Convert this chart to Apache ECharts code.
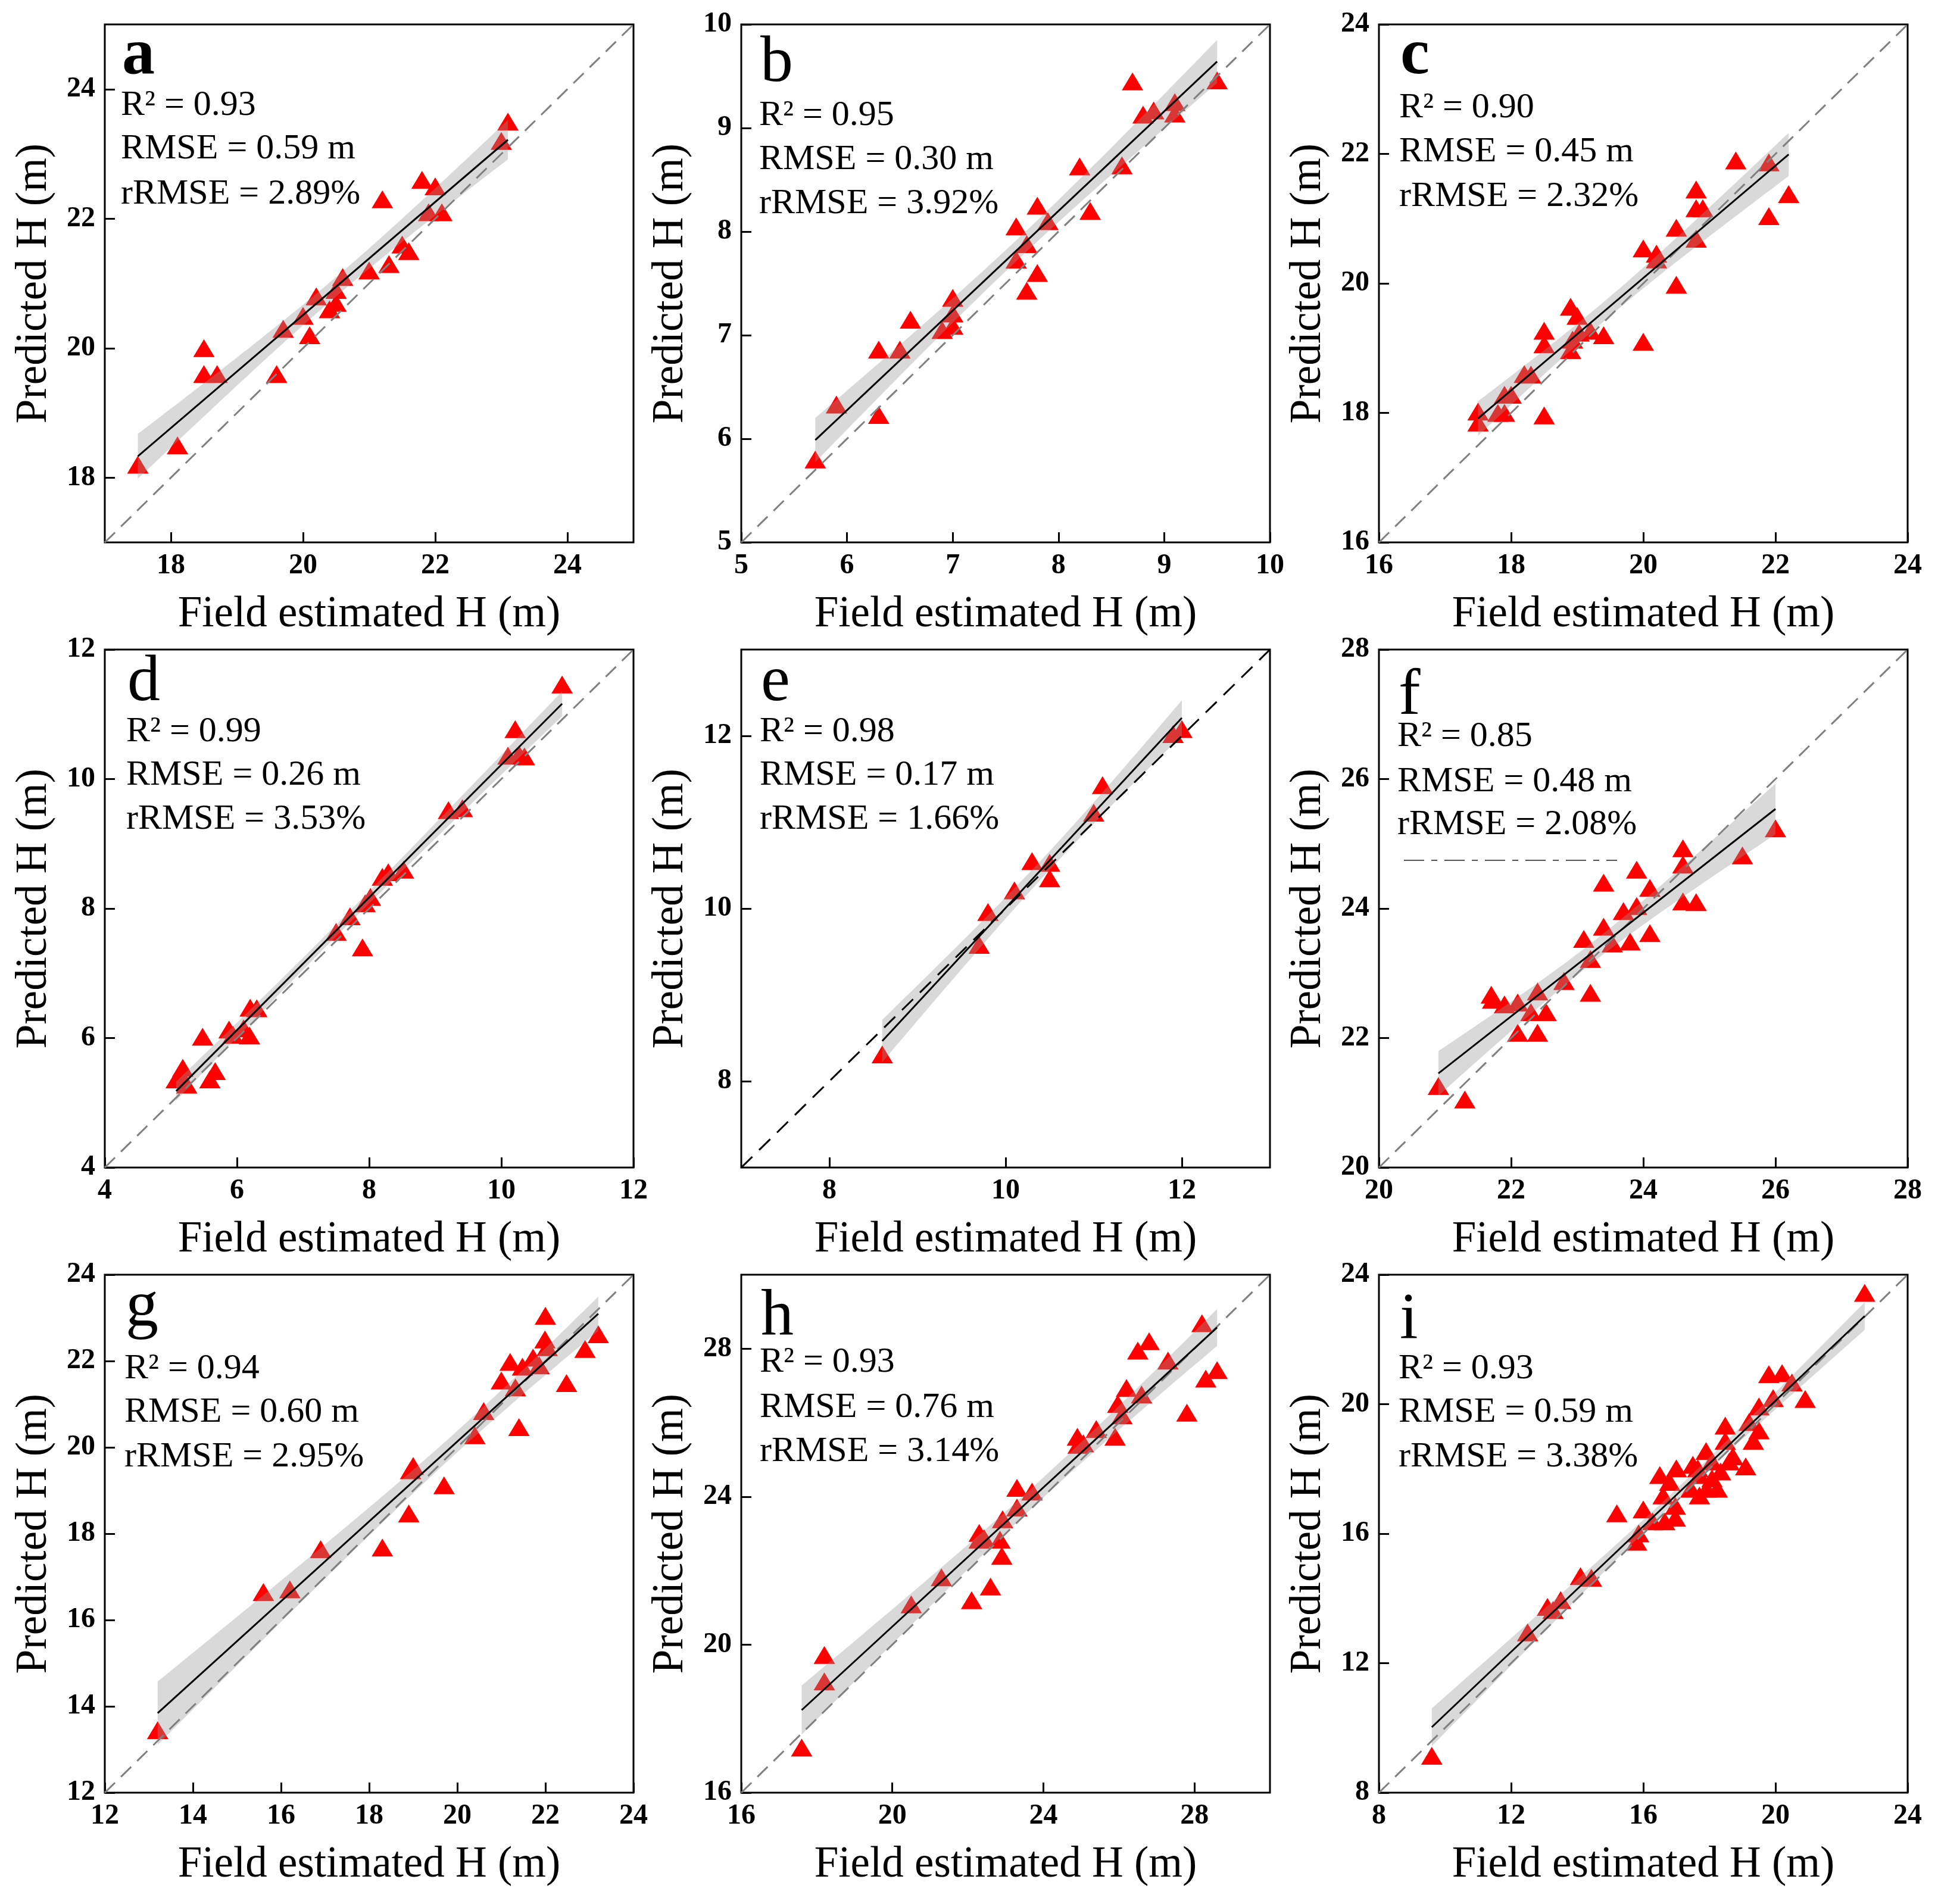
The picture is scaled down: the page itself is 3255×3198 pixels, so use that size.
<!DOCTYPE html>
<html>
<head>
<meta charset="utf-8">
<script src="https://cdn.jsdelivr.net/npm/echarts@6/dist/echarts.min.js"></script>
<style>
  html, body { margin: 0; padding: 0; background: #fff; }
  #chart { width: 3255px; height: 3198px; }
</style>
</head>
<body>
<div id="chart"></div>
<script>
// ---- data (field estimated vs predicted height) ----
const aX = [17.5,18.1,18.5,18.5,18.7,19.6,19.7,20.0,20.1,20.2,20.4,20.5,20.5,20.6,21.0,21.2,21.3,21.5,21.6,21.8,22.0,21.9,22.1,23.0,23.1];
const aY = [18.2,18.5,20.0,19.6,19.6,19.6,20.3,20.5,20.2,20.8,20.6,20.7,20.9,21.1,21.2,22.3,21.3,21.6,21.5,22.6,22.5,22.1,22.1,23.2,23.5];

const bX = [5.7,5.9,6.3,6.3,6.5,6.6,6.9,7.0,7.0,7.0,7.6,7.6,7.7,7.7,7.8,7.8,7.9,8.2,8.3,8.6,8.7,8.8,8.9,9.1,9.1,9.5];
const bY = [5.8,6.33,6.23,6.86,6.86,7.15,7.05,7.36,7.21,7.09,7.73,8.05,7.88,7.43,8.25,7.6,8.1,8.63,8.2,8.64,9.45,9.13,9.17,9.25,9.14,9.46];

const cX = [17.5,17.5,17.8,17.9,17.9,18.0,18.2,18.3,18.5,18.5,18.5,18.9,19.0,18.9,18.93,19.03,19.2,19.4,20.0,20.0,20.2,20.2,20.5,20.5,20.8,20.8,20.9,20.8,21.4,21.9,21.9,22.2];
const cY = [18.02,17.85,18.0,18.0,18.28,18.28,18.6,18.59,19.27,19.06,17.96,19.64,19.5,18.97,19.13,19.24,19.27,19.2,19.1,20.54,20.46,20.37,20.86,19.98,21.45,21.16,21.16,20.69,21.9,21.87,21.04,21.38];

const dX = [5.08,5.18,5.24,5.15,5.48,5.59,5.67,5.88,5.94,6.1,6.19,6.2,6.3,7.5,7.71,7.9,7.94,8.02,8.2,8.29,8.52,9.2,9.41,10.1,10.21,10.27,10.35,10.92];
const dY = [5.36,5.54,5.28,5.41,6.02,5.36,5.49,6.13,6.05,6.15,6.04,6.47,6.46,7.64,7.88,7.4,8.08,8.18,8.49,8.56,8.6,9.52,9.55,10.36,10.77,10.38,10.35,11.46];

const eX = [8.6,9.7,9.8,10.1,10.3,10.5,10.5,11.0,11.1,11.9,12.0];
const eY = [8.31,9.58,9.96,10.21,10.55,10.53,10.35,11.11,11.43,12.02,12.08];

const fX = [20.9,21.3,21.7,21.72,21.9,22.1,22.1,22.3,22.4,22.4,22.53,22.8,23.2,23.2,23.1,23.4,23.4,23.53,23.7,23.8,23.9,23.9,24.1,24.1,24.6,24.6,24.6,24.8,25.5,26.0];
const fY = [21.26,21.05,22.67,22.59,22.52,22.55,22.08,22.4,22.72,22.08,22.4,22.88,22.7,23.22,23.53,23.72,24.4,23.46,23.96,23.49,24.04,24.6,24.32,23.62,24.93,24.68,24.11,24.1,24.82,25.24];

const gX = [13.2,15.6,16.2,16.9,18.3,18.9,18.94,19.0,19.7,20.4,20.6,21.0,21.2,21.32,21.4,21.48,21.86,21.72,22.0,21.99,22.04,22.48,22.9,23.2];
const gY = [13.45,16.65,16.71,17.64,17.68,18.47,19.47,19.57,19.12,20.28,20.84,21.55,21.98,21.39,20.47,21.87,21.9,22.08,23.05,22.5,22.32,21.49,22.28,22.62];

const hX = [17.6,18.2,18.2,20.5,21.3,22.1,22.6,22.3,22.43,22.3,22.85,22.9,22.92,23.3,23.3,23.7,24.9,25.06,25.4,25.9,25.97,26.08,26.2,26.6,26.5,26.8,27.3,27.8,28.2,28.3,28.6,24.92];
const hY = [17.22,19.01,19.72,21.09,21.82,21.2,21.57,23.02,22.88,22.84,22.84,22.4,23.39,23.71,24.24,24.14,25.62,25.44,25.83,25.62,26.51,26.2,26.94,26.76,27.95,28.2,27.68,26.27,28.69,27.19,27.42,25.4];

const iX = [9.6,12.5,13.1,13.27,13.5,14.1,14.43,15.2,15.8,15.86,16.0,16.28,16.5,16.6,16.65,16.8,16.97,16.97,17.0,17.5,17.44,17.7,17.7,17.9,18.08,18.24,18.34,18.48,18.48,18.6,18.71,19.1,19.2,19.33,19.5,19.5,19.8,19.93,20.2,20.5,20.9,22.7,17.92,18.08,17.65];
const iY = [9.14,12.95,13.74,13.64,13.95,14.69,14.64,16.63,15.75,16.01,16.75,16.38,17.81,17.18,16.38,17.6,16.86,16.49,18.02,18.13,17.39,17.81,17.18,18.55,18.23,17.39,17.92,19.34,18.87,18.23,18.39,18.08,19.45,18.87,19.19,19.93,20.93,20.19,20.96,20.67,20.16,23.44,17.39,17.71,18.02];

// axis ranges and tick labels (same on both axes of a panel)
const axisRanges = [[17,25],[5,10],[16,24],[4,12],[7,13],[20,28],[12,24],[16,30],[8,24]];
const axisTicks = [
  [18,20,22,24], [5,6,7,8,9,10], [16,18,20,22,24],
  [4,6,8,10,12], [8,10,12], [20,22,24,26,28],
  [12,14,16,18,20,22,24], [16,20,24,28], [8,12,16,20,24]
];

const panelLetters = ['a','b','c','d','e','f','g','h','i'];
const r2Values   = ['0.93','0.95','0.90','0.99','0.98','0.85','0.94','0.93','0.93'];
const rmseValues = ['0.59','0.30','0.45','0.26','0.17','0.48','0.60','0.76','0.59'];
const rrmseValues = ['2.89','3.92','2.32','3.53','1.66','2.08','2.95','3.14','3.38'];

const xsAll = [aX,bX,cX,dX,eX,fX,gX,hX,iX];
const ysAll = [aY,bY,cY,dY,eY,fY,gY,hY,iY];

// ---- layout ----
const LEFTS = [176, 1245, 2316];
const TOPS = [41, 1091, 2141];
const W = 888, H = 870;
const FONT = '"Liberation Serif", "Times New Roman", serif';

// text baselines relative to the top of each plot: letter, R2, RMSE, rRMSE
const textRows = [
  [87,154,227,303],[99,171,245,319],[87,158,232,307],
  [89,156,229,303],[89,156,229,303],[112,164,240,312],
  [90,176,249,324],[105,165,241,315],[110,176,249,324]
];
const textLeft = [27,30,34,36,31,31,33,31,33];

// Student t quantile (0.975) via Cornish-Fisher expansion
function tQuantile(df) {
  const z = 1.959964;
  const z3 = z*z*z, z5 = z3*z*z, z7 = z5*z*z;
  return z + (z3 + z) / (4*df) + (5*z5 + 16*z3 + 3*z) / (96*df*df)
    + (3*z7 + 19*z5 + 17*z3 - 15*z) / (384*df*df*df);
}

// ordinary least squares with 95% confidence band of the mean
function fitLine(xs, ys) {
  const n = xs.length;
  const mx = xs.reduce((s, v) => s + v, 0) / n;
  const my = ys.reduce((s, v) => s + v, 0) / n;
  let sxx = 0, sxy = 0;
  for (let k = 0; k < n; k++) {
    sxx += (xs[k] - mx) ** 2;
    sxy += (xs[k] - mx) * (ys[k] - my);
  }
  const b = sxy / sxx, a = my - b * mx;
  let sse = 0;
  for (let k = 0; k < n; k++) sse += (ys[k] - a - b * xs[k]) ** 2;
  const s = Math.sqrt(sse / (n - 2));
  const t = tQuantile(n - 2);
  const xmin = Math.min(...xs), xmax = Math.max(...xs);
  const upper = [], lower = [];
  const steps = 60;
  for (let k = 0; k <= steps; k++) {
    const x = xmin + (xmax - xmin) * k / steps;
    const yh = a + b * x;
    const half = t * s * Math.sqrt(1 / n + (x - mx) ** 2 / sxx);
    upper.push([x, yh + half]);
    lower.push([x, yh - half]);
  }
  return { line: [[xmin, a + b * xmin], [xmax, a + b * xmax]], upper, lower };
}

const grids = [], xAxes = [], yAxes = [], series = [], graphics = [];

for (let p = 0; p < 9; p++) {
  const col = p % 3, row = Math.floor(p / 3);
  const left = LEFTS[col], top = TOPS[row];
  const [lo, hi] = axisRanges[p];
  const ticks = axisTicks[p];

  grids.push({
    left: left, top: top, width: W, height: H,
    show: true, borderColor: '#000', borderWidth: 3, backgroundColor: '#fff'
  });

  const common = {
    type: 'value', gridIndex: p, min: lo, max: hi,
    splitLine: { show: false },
    axisLine: { show: false },
    axisTick: { show: true, inside: true, length: 17, customValues: ticks,
      lineStyle: { color: '#000', width: 3 } },
    axisLabel: { customValues: ticks, fontFamily: FONT, fontSize: 48,
      fontWeight: 'bold', color: '#000', margin: 16 },
    nameLocation: 'middle',
    nameTextStyle: { fontFamily: FONT, fontSize: 73, color: '#000' }
  };
  xAxes.push(Object.assign({}, common, { name: 'Field estimated H (m)', nameGap: 85 }));
  yAxes.push(Object.assign({}, common, { name: 'Predicted H (m)', nameGap: 82, nameRotate: 90 }));

  const xs = xsAll[p], ys = ysAll[p];
  const fit = fitLine(xs, ys);

  series.push({
    type: 'scatter', xAxisIndex: p, yAxisIndex: p, z: 2,
    symbol: 'triangle', symbolSize: [36, 30],
    itemStyle: { color: '#ff0000', opacity: 1 },
    data: xs.map((x, k) => [x, ys[k]])
  });

  series.push({
    type: 'custom', xAxisIndex: p, yAxisIndex: p, z: 3, silent: true,
    data: [fit.line[0]],
    renderItem: function (params, api) {
      const pts = fit.upper.map(v => api.coord(v))
        .concat(fit.lower.slice().reverse().map(v => api.coord(v)));
      return { type: 'polygon', shape: { points: pts },
        style: { fill: 'rgba(150,150,150,0.36)' } };
    }
  });

  series.push({
    type: 'line', xAxisIndex: p, yAxisIndex: p, z: 4, silent: true,
    symbol: 'none',
    lineStyle: { color: p === 4 ? '#000' : '#808080', width: 3,
      type: p === 4 ? [26, 16] : [24, 14] },
    data: [[lo, lo], [hi, hi]]
  });

  series.push({
    type: 'line', xAxisIndex: p, yAxisIndex: p, z: 5, silent: true,
    symbol: 'none',
    lineStyle: { color: '#000', width: 3 },
    data: fit.line
  });

  // panel letter and statistics
  const tr = textRows[p];
  const tx = left + textLeft[p];
  const letterSize = 110, statSize = 60;
  graphics.push({
    type: 'text', x: tx + 2, y: top + tr[0] - 0.3 * letterSize, silent: true,
    style: { text: panelLetters[p], fontFamily: FONT, fontSize: letterSize,
      fontWeight: (p === 0 || p === 2) ? 'bold' : 'normal',
      fill: '#000', verticalAlign: 'middle', align: 'left' }
  });
  const stats = ['R\u00B2 = ' + r2Values[p], 'RMSE = ' + rmseValues[p] + ' m',
    'rRMSE = ' + rrmseValues[p] + '%'];
  stats.forEach((s, k) => {
    graphics.push({
      type: 'text', x: tx, y: top + tr[k + 1] - 0.3 * statSize, silent: true,
      style: { text: s, fontFamily: FONT, fontSize: statSize, fill: '#000',
        verticalAlign: 'middle', align: 'left' }
    });
  });
}

// stray dashed stroke that appears inside panel f of the original figure
graphics.push({
  type: 'line', silent: true,
  shape: { x1: LEFTS[2] + 42, y1: TOPS[1] + 354, x2: LEFTS[2] + 400, y2: TOPS[1] + 354 },
  style: { stroke: '#555', lineWidth: 2, lineDash: [34, 12, 10, 12] }
});

const chart = echarts.init(document.getElementById('chart'));
chart.setOption({
  animation: false,
  backgroundColor: '#fff',
  grid: grids,
  xAxis: xAxes,
  yAxis: yAxes,
  series: series,
  graphic: graphics
});
</script>
</body>
</html>
